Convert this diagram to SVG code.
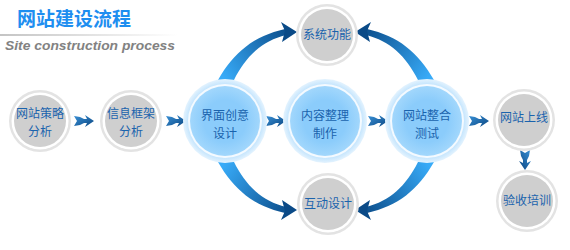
<svg xmlns="http://www.w3.org/2000/svg" width="570" height="250" viewBox="0 0 570 250">
<style>
.t{font-family:"Noto Sans CJK SC","Liberation Sans",sans-serif;font-size:12px;fill:#1a63ad;text-anchor:middle}
</style>
<defs>
<linearGradient id="ln" x1="0" y1="0" x2="1" y2="0"><stop offset="0" stop-color="#c4c4c4"/><stop offset="1" stop-color="#fff"/></linearGradient>
<linearGradient id="cg" gradientUnits="userSpaceOnUse" x1="225" y1="80" x2="292" y2="30"><stop offset="0" stop-color="#38abf8"/><stop offset="1" stop-color="#0a4a87"/></linearGradient>
<linearGradient id="ag" x1="0" y1="0" x2="1" y2="1"><stop offset="0" stop-color="#3a92d8"/><stop offset="1" stop-color="#0a4580"/></linearGradient>
<radialGradient id="glow"><stop offset="0.8" stop-color="#b2ddfd"/><stop offset="1" stop-color="#e4f3fe"/></radialGradient>
<radialGradient id="bf"><stop offset="0.6" stop-color="#8bccfb"/><stop offset="1" stop-color="#a2d7fc"/></radialGradient>
<g id="grey"><circle r="31" fill="#e3e3e3"/><circle r="28.5" fill="#fff"/><circle r="26" fill="#cfcfcf"/></g>
<g id="blue"><circle r="42" fill="url(#glow)"/><circle r="37" fill="#f4faff"/><circle r="35" fill="url(#bf)"/></g>
<path id="sa" d="M-10,-5 L-4,-4 L0,-2 L3,-2 L1,-6 L10,0 L1,6 L3,2 L0,2 L-4,4 L-10,5 L-7,0 Z" fill="url(#ag)"/>
<g id="ca"><path d="M218,80 C234,52 254,36 285,29 L286,35 C262,41 246,56 234,80 Z" fill="url(#cg)"/><path d="M297,32 L281,22 L285,31 L282,42 Z" fill="#0a4a87"/></g>
</defs>
<g id="title">
<text x="17" y="26" font-family="Noto Sans CJK SC,sans-serif" font-size="19" font-weight="bold" fill="#1e8ef0">网站建设流程</text>
<rect x="0" y="34" width="178" height="2" fill="url(#ln)"/>
<text x="5" y="50" font-family="Liberation Sans,sans-serif" font-size="13" font-weight="bold" font-style="italic" fill="#828282" textLength="170" lengthAdjust="spacingAndGlyphs">Site construction process</text>
</g>
<g id="connectors">
<use href="#sa" x="84" y="121"/>
<use href="#sa" x="176" y="121"/>
<use href="#sa" x="276" y="121"/>
<use href="#sa" x="378" y="121"/>
<use href="#sa" x="479" y="121"/>
<use href="#sa" transform="translate(525,160) rotate(90)"/>
<use href="#ca"/>
<use href="#ca" transform="translate(652,0) scale(-1,1)"/>
<use href="#ca" transform="translate(0,242) scale(1,-1)"/>
<use href="#ca" transform="translate(652,242) scale(-1,-1)"/>
</g>
<g id="n1"><use href="#grey" x="40" y="121"/><text class="t" x="40" y="118">网站策略</text><text class="t" x="40" y="136">分析</text></g>
<g id="n2"><use href="#grey" x="131" y="121"/><text class="t" x="131" y="118">信息框架</text><text class="t" x="131" y="136">分析</text></g>
<g id="n3"><use href="#blue" x="225" y="121"/><text class="t" x="225" y="120">界面创意</text><text class="t" x="225" y="138">设计</text></g>
<g id="n4"><use href="#blue" x="325" y="121"/><text class="t" x="325" y="120">内容整理</text><text class="t" x="325" y="138">制作</text></g>
<g id="n5"><use href="#blue" x="427" y="121"/><text class="t" x="427" y="120">网站整合</text><text class="t" x="427" y="138">测试</text></g>
<g id="n6"><use href="#grey" x="524" y="120"/><text class="t" x="524" y="122">网站上线</text></g>
<g id="n7"><use href="#grey" x="527" y="201"/><text class="t" x="527" y="205">验收培训</text></g>
<g id="n8"><use href="#grey" x="327" y="35"/><text class="t" x="327" y="39">系统功能</text></g>
<g id="n9"><use href="#grey" x="328" y="204"/><text class="t" x="328" y="208">互动设计</text></g>
</svg>
